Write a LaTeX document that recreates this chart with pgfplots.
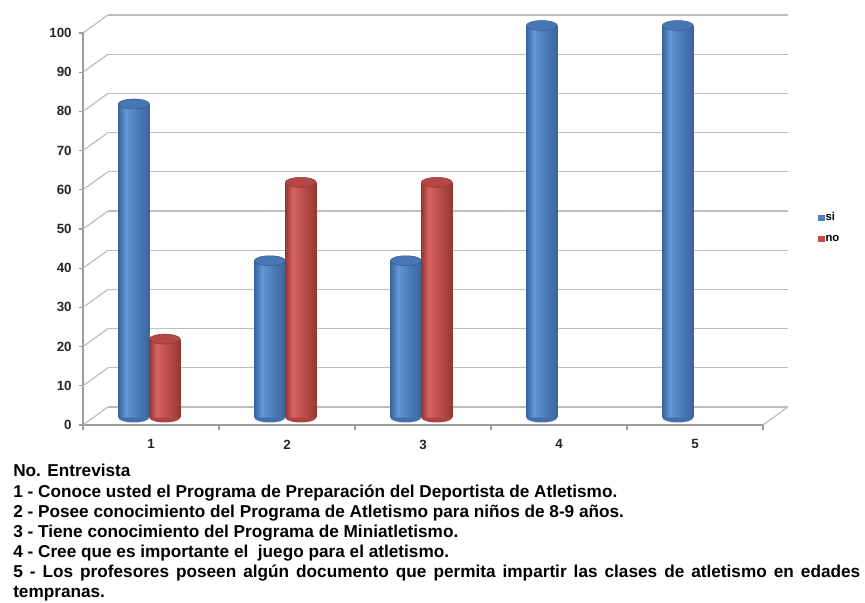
\documentclass[border=0pt]{standalone}
\usepackage{fontspec}
\setmainfont{Liberation Sans}
\usepackage{pgfplots}
\pgfplotsset{compat=1.18}

\definecolor{gridgray}{HTML}{BDBDBD}
\definecolor{axgray}{HTML}{9C9C9C}
\definecolor{siblue}{HTML}{4F81BD}
\definecolor{sidark}{HTML}{3A659F}
\definecolor{silight}{HTML}{6196D6}
\definecolor{sitop}{HTML}{4877B5}
\definecolor{sibottom}{HTML}{4370AC}
\definecolor{nored}{HTML}{C0504D}
\definecolor{nodark}{HTML}{933633}
\definecolor{nolight}{HTML}{D6625F}
\definecolor{notop}{HTML}{B44845}
\definecolor{nobottom}{HTML}{AC4542}

% horizontal shadings that give the bars a cylinder look
\pgfdeclarehorizontalshading{sicyl}{100bp}{color(0bp)=(sidark); color(25bp)=(sidark); color(37bp)=(silight); color(52bp)=(siblue); color(75bp)=(sidark); color(100bp)=(sidark)}
\pgfdeclarehorizontalshading{nocyl}{100bp}{color(0bp)=(nodark); color(25bp)=(nodark); color(37bp)=(nolight); color(52bp)=(nored); color(75bp)=(nodark); color(100bp)=(nodark)}

% lower half of a disc, used for the rounded foot of each cylinder
\pgfdeclareplotmark{halfdisc}{%
  \pgfpathmoveto{\pgfqpoint{-\pgfplotmarksize}{0pt}}%
  \pgfpatharc{180}{360}{\pgfplotmarksize}%
  \pgfpathclose
  \pgfusepathqfill}

% one cylinder: category, value, bar shift, shading, cap colour, foot colour
\newcommand\cylinder[6]{%
  \addplot[only marks, mark=halfdisc, mark size=11.6pt,
    mark options={xshift=#3, yscale=0.32, draw=none, fill=#6}] coordinates {(#1,0)};
  \addplot[ybar, bar width=23.2pt, bar shift=#3, draw=none, shading=#4]
    coordinates {(#1,#2)};
  \addplot[only marks, mark=*, mark size=11.6pt,
    mark options={xshift=#3, yscale=0.32, draw=#5!75!black, line width=0.4pt, fill=#5}]
    coordinates {(#1,#2)};
}

\pgfplotsset{
  planestyle/.style={
    scale only axis, width=510pt, height=294pt,
    xmin=0.5, xmax=5.5, ymin=0, ymax=100,
    anchor=south west, clip=false,
  },
}

\begin{document}
\begin{tikzpicture}
\useasboundingbox (0,0) rectangle (648.75pt,452.25pt);

% back wall with its gridlines
\begin{axis}[planestyle, at={(81pt,147pt)},
  axis line style={draw=none},
  ytick={0,10,...,100}, yticklabels={}, xtick=\empty,
  major tick length=0pt, tick style={draw=none},
  ymajorgrids, grid style={gridgray, line width=0.9pt}]
  \addplot[draw=none] coordinates {(1,0)};
\end{axis}

% front plane: axis lines, ticks, labels, legend
\begin{axis}[planestyle, at={(62.25pt,133.5pt)},
  axis lines*=left,
  axis line style={axgray, line width=0.9pt},
  ytick={0,10,...,100},
  xtick={1,2,3,4,5},
  minor xtick={0.5,1.5,2.5,3.5,4.5,5.5},
  major x tick style={draw=none},
  tick style={axgray, line width=0.8pt},
  tick align=outside,
  major tick length=3pt, minor tick length=4pt,
  /pgf/number format/assume math mode=true,
  tick label style={font=\bfseries\fontsize{10}{12}\selectfont, text=black!85},
  yticklabel style={xshift=-2pt},
  xticklabel style={yshift=-4.5pt},
  legend image code/.code={\fill[#1] (0pt,-2pt) rectangle (4.2pt,2pt);},
  legend style={draw=none, fill=none, at={(1.081,0.503)}, anchor=west,
    inner sep=0pt, row sep=7.5pt,
    font=\bfseries\fontsize{8.5}{10}\selectfont,
    nodes={inner sep=0.8pt}},
  legend cell align=left]
  \addlegendimage{siblue}
  \addlegendentry{si}
  \addlegendimage{nored}
  \addlegendentry{no}
  % side wall and floor edges joining front and back
  \pgfplotsinvokeforeach{0,10,...,100}{
    \draw[gridgray, line width=0.9pt] (axis cs:0.5,#1) -- ++(18.75pt,13.5pt);
  }
  \draw[gridgray, line width=0.9pt] (axis cs:5.5,0) -- ++(18.75pt,13.5pt);
\end{axis}

% cylinders, standing midway between front and back
\begin{axis}[planestyle, at={(70pt,139.1pt)}, hide axis]
  % si
  \cylinder{1}{80}{-20.6pt}{sicyl}{sitop}{sibottom}
  \cylinder{2}{40}{-20.6pt}{sicyl}{sitop}{sibottom}
  \cylinder{3}{40}{-20.6pt}{sicyl}{sitop}{sibottom}
  \cylinder{4}{100}{-20.6pt}{sicyl}{sitop}{sibottom}
  \cylinder{5}{100}{-20.6pt}{sicyl}{sitop}{sibottom}
  % no
  \cylinder{1}{20}{2.6pt}{nocyl}{notop}{nobottom}
  \cylinder{2}{60}{2.6pt}{nocyl}{notop}{nobottom}
  \cylinder{3}{60}{2.6pt}{nocyl}{notop}{nobottom}
\end{axis}

% key to the interview questions
\node[anchor=base west, inner sep=0pt] at (9.75pt,94.5pt) {%
  \parbox[t]{635.25pt}{\bfseries\fontsize{12.9}{15.1}\selectfont\parindent=0pt
  No. Entrevista\\
  1 - Conoce usted el Programa de Preparación del Deportista de Atletismo.\\
  2 - Posee conocimiento del Programa de Atletismo para niños de 8-9 años.\\
  3 - Tiene conocimiento del Programa de Miniatletismo.\\
  4 - Cree que es importante el\ \ juego para el atletismo.\\
  5 - Los profesores poseen algún documento que permita impartir las clases de atletismo en edades\linebreak
  tempranas.}};
\end{tikzpicture}
\end{document}
